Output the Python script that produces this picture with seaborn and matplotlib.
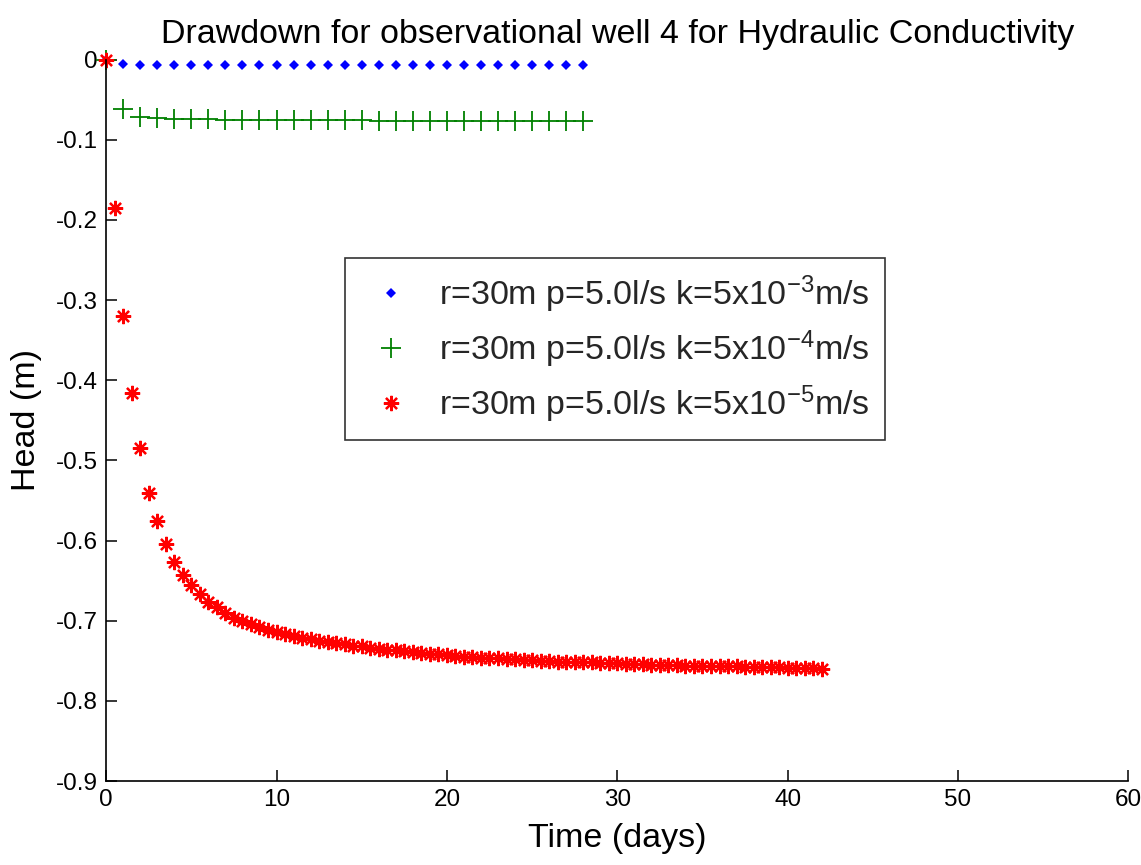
import numpy as np
import matplotlib
matplotlib.use("Agg")
import matplotlib.pyplot as plt
import seaborn as sns

# Time axes (days)
t_fast = list(range(0, 29))
t_slow = [i * 0.5 for i in range(0, 85)]

# Head (m) for k = 5e-3 m/s
head_k3 = [0.0, -0.005] + [-0.007] * 27

# Head (m) for k = 5e-4 m/s
head_k4 = [0.0, -0.061, -0.071, -0.073, -0.074, -0.074, -0.074,
           -0.075, -0.075, -0.075, -0.075, -0.075, -0.075, -0.075,
           -0.075, -0.075, -0.077, -0.077, -0.077, -0.077, -0.077,
           -0.077, -0.077, -0.077, -0.077, -0.077, -0.077, -0.077,
           -0.077]

# Head (m) for k = 5e-5 m/s
head_k5 = [0.0, -0.185, -0.320, -0.416, -0.485, -0.540, -0.576, -0.604,
           -0.627, -0.643, -0.655, -0.667, -0.676, -0.683, -0.690, -0.696,
           -0.700, -0.704, -0.708, -0.711, -0.714, -0.717, -0.719, -0.721,
           -0.723, -0.725, -0.726, -0.728, -0.729, -0.731, -0.732, -0.734,
           -0.735, -0.736, -0.737, -0.738, -0.739, -0.740, -0.741, -0.742,
           -0.743, -0.744, -0.745, -0.745, -0.746, -0.747, -0.747, -0.748,
           -0.748, -0.749, -0.749, -0.750, -0.750, -0.751, -0.751, -0.752,
           -0.752, -0.752, -0.753, -0.753, -0.753, -0.754, -0.754, -0.754,
           -0.755, -0.755, -0.755, -0.755, -0.756, -0.756, -0.756, -0.757,
           -0.757, -0.757, -0.757, -0.758, -0.758, -0.758, -0.758, -0.758,
           -0.759, -0.759, -0.759, -0.759, -0.760]

labels = [r"r=30m p=5.0l/s k=5x10$^{-3}$m/s",
          r"r=30m p=5.0l/s k=5x10$^{-4}$m/s",
          r"r=30m p=5.0l/s k=5x10$^{-5}$m/s"]

y_ticks = [-0.9, -0.8, -0.7, -0.6, -0.5, -0.4, -0.3, -0.2, -0.1, 0.0]
x_ticks = [0, 10, 20, 30, 40, 50, 60]

sns.set_theme(style="white")
plt.rcParams["font.family"] = ["Liberation Sans", "DejaVu Sans"]
plt.rcParams["mathtext.default"] = "regular"
plt.rcParams["axes.unicode_minus"] = False

fig = plt.figure(figsize=(11.41, 8.65), dpi=100)
ax = fig.add_axes([0.093, 0.097, 0.896, 0.834])

sns.lineplot(x=t_fast, y=head_k3, ax=ax, color="#0000ff", marker="D",
             markersize=5, markeredgewidth=0, markeredgecolor="#0000ff",
             linestyle="", label=labels[0], clip_on=False)
sns.lineplot(x=t_fast, y=head_k4, ax=ax, color="#008000", marker="+",
             markersize=14, markeredgewidth=1.3, markeredgecolor="#008000",
             linestyle="", label=labels[1], clip_on=False)
sns.lineplot(x=t_slow, y=head_k5, ax=ax, color="#ff0000", marker=(8, 2, 0),
             markersize=11, markeredgewidth=1.6, markeredgecolor="#ff0000",
             linestyle="", label=labels[2], clip_on=False)

ax.set_xlim(0, 60)
ax.set_ylim(-0.9, 0)
ax.set_xticks(x_ticks)
ax.set_yticks(y_ticks)
ax.set_yticklabels(["%g" % abs(v) if v == 0 else "%g" % v for v in y_ticks])

for side in ("top", "right"):
    ax.spines[side].set_visible(False)
for side in ("left", "bottom"):
    ax.spines[side].set_color("black")
    ax.spines[side].set_linewidth(1.2)

ax.tick_params(axis="both", direction="in", length=8, width=1.1,
               colors="black", labelsize=17.5, pad=6,
               left=True, bottom=True)

ax.set_title("Drawdown for observational well 4 for Hydraulic Conductivity",
             fontsize=24.5, pad=12, color="black")
ax.set_xlabel("Time (days)", fontsize=24.5, color="black", labelpad=8)
ax.set_ylabel("Head (m)", fontsize=24.5, color="black", labelpad=10)

leg = ax.legend(loc="upper left", bbox_to_anchor=(0.234, 0.725),
                borderaxespad=0, fontsize=24.5, frameon=True, fancybox=False,
                edgecolor="black", handletextpad=0.5, borderpad=0.45,
                labelspacing=0.4, handlelength=1.8)
leg.get_frame().set_linewidth(1.2)

fig.savefig("out.png", dpi=100, facecolor="white")
